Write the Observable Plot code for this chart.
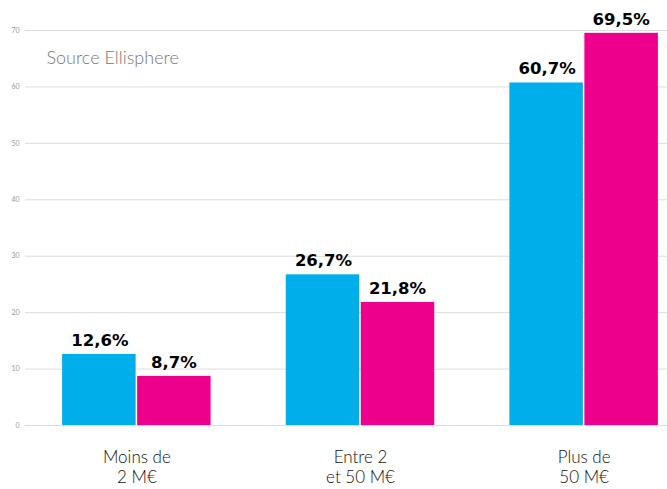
<!DOCTYPE html>
<html>
<head>
<meta charset="utf-8">
<script src="https://cdn.jsdelivr.net/npm/d3@7"></script>
<script src="https://cdn.jsdelivr.net/npm/@observablehq/plot@0.6"></script>
<style>
  html, body { margin: 0; padding: 0; background: #fff; }
  #chart { width: 667px; height: 489px; }
</style>
</head>
<body>
<div id="chart"></div>
<script>
const categories = ["Moins de\n2 M€", "Entre 2\net 50 M€", "Plus de\n50 M€"];
const seriesA = [12.6, 26.7, 60.7];
const seriesB = [8.7, 21.8, 69.5];
const labelsA = ["12,6%", "26,7%", "60,7%"];
const labelsB = ["8,7%", "21,8%", "69,5%"];
const yTicks = [0, 10, 20, 30, 40, 50, 60, 70];
const note = "Source Ellisphere";

const dataA = categories.map((c, i) => ({cat: c, value: seriesA[i], label: labelsA[i]}));
const dataB = categories.map((c, i) => ({cat: c, value: seriesB[i], label: labelsB[i]}));

const blue = "#00aeea";
const pink = "#ec008c";
const inset = 75;
const half = 37;

const chart = Plot.plot({
  width: 667,
  height: 489,
  marginTop: 30,
  marginBottom: 64,
  marginLeft: 25,
  marginRight: 0,
  style: {fontFamily: "Lato, 'Open Sans', sans-serif", background: "#fff"},
  x: {domain: categories, range: [25, 695], paddingInner: 0.336, paddingOuter: 0.166, round: false, label: null},
  y: {domain: [0, 70], label: null},
  marks: [
    Plot.ruleY(yTicks, {stroke: "#dcdcdc", strokeWidth: 1}),
    Plot.axisY({ticks: yTicks, tickSize: 0, tickPadding: 6, fontSize: 7, color: "#999", label: null}),
    Plot.axisX({tickSize: 0, tickPadding: 23, fontSize: 17, lineHeight: 1.2, color: "#111", label: null, fontWeight: 300}),
    Plot.barY(dataA, {x: "cat", y: "value", fill: blue, insetRight: inset}),
    Plot.barY(dataB, {x: "cat", y: "value", fill: pink, insetLeft: inset}),
    Plot.text(dataA, {x: "cat", y: "value", text: "label", dx: -half, dy: -14, fontSize: 16.5, fontWeight: "bold", fill: "#000", fontFamily: "'DejaVu Sans', sans-serif"}),
    Plot.text(dataB, {x: "cat", y: "value", text: "label", dx: half, dy: -14, fontSize: 16.5, fontWeight: "bold", fill: "#000", fontFamily: "'DejaVu Sans', sans-serif"}),
    Plot.text([note], {frameAnchor: "top-left", dx: 21, dy: 28, lineAnchor: "middle", fontSize: 18, fill: "#777", fontWeight: 300})
  ]
});
document.getElementById("chart").appendChild(chart);
</script>
</body>
</html>
